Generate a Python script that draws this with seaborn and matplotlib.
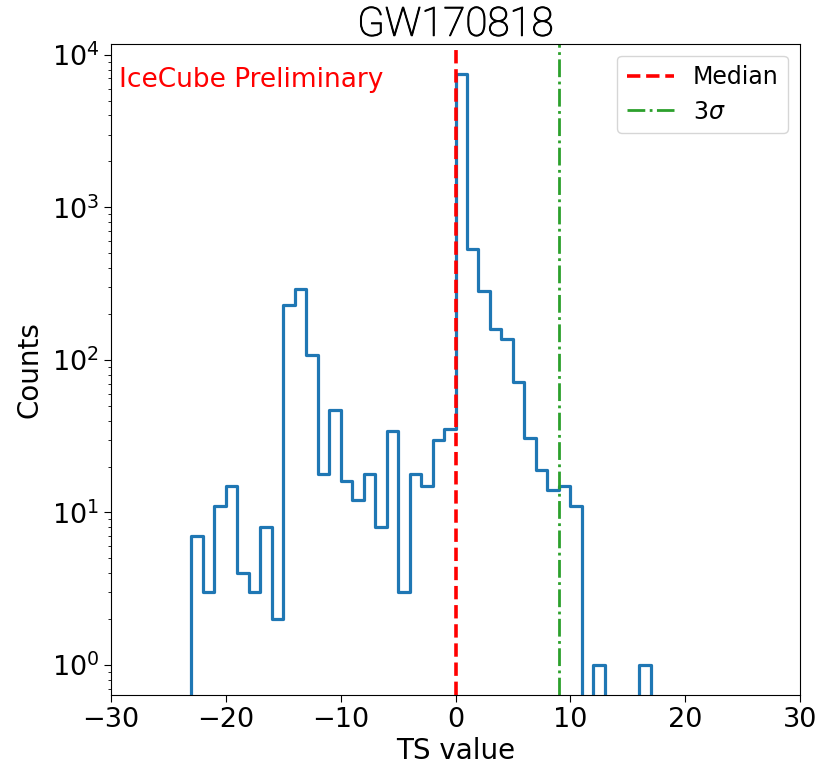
import numpy as np
import pandas as pd
import matplotlib
matplotlib.use("Agg")
import matplotlib.pyplot as plt
import matplotlib.patheffects as pe
import seaborn as sns

# Histogram of TS values: left bin edges (width 1) and counts per bin
bin_lefts = list(range(-23, 17))
counts = [7, 3, 11, 15, 4, 3, 8, 2, 229, 292, 108, 18, 47, 16, 12, 18, 8, 34,
          3, 18, 15, 30, 35,
          7500, 535, 282, 160, 137, 72, 31, 19, 14, 15, 11, 0, 1, 0, 0, 0, 1]
median_ts = 0.0
three_sigma_ts = 9.0

df = pd.DataFrame({"ts": np.array(bin_lefts) + 0.5, "n": counts})

fig = plt.figure(figsize=(8.23, 7.68), dpi=100)
ax = fig.add_axes([0.135, 0.095, 0.837, 0.848])

sns.histplot(data=df, x="ts", weights="n", binwidth=1, binrange=(-24, 18),
             element="step", fill=False, color="#1f77b4", linewidth=2.3,
             ax=ax)
ax.set_yscale("log")

ax.axvline(median_ts, color="red", linestyle="--", linewidth=2.6, label="Median")
ax.axvline(three_sigma_ts, color="tab:green", linestyle="-.", linewidth=2.0,
           label=r"3$\sigma$")

ax.set_xlim(-30, 30)
ax.set_ylim(0.636, 11800)
ax.set_xticks([-30, -20, -10, 0, 10, 20, 30])
ax.tick_params(axis="both", which="major", labelsize=19.5, length=5)
ax.set_xlabel("TS value", fontsize=20, labelpad=3)
ax.set_ylabel("Counts", fontsize=20, labelpad=6)

ax.text(0.011, 0.934, "IceCube Preliminary", color="red", fontsize=19,
        transform=ax.transAxes, ha="left", va="baseline")

ax.legend(loc="upper right", fontsize=17, handlelength=2.0,
          borderaxespad=0.5, labelspacing=0.45)

title = ax.set_title("GW170818", fontsize=29, family="Roboto",
                     fontweight="light", color="black", pad=4)
title.set_path_effects([pe.withStroke(linewidth=0.7, foreground="black")])

fig.savefig("out.png", dpi=100)
